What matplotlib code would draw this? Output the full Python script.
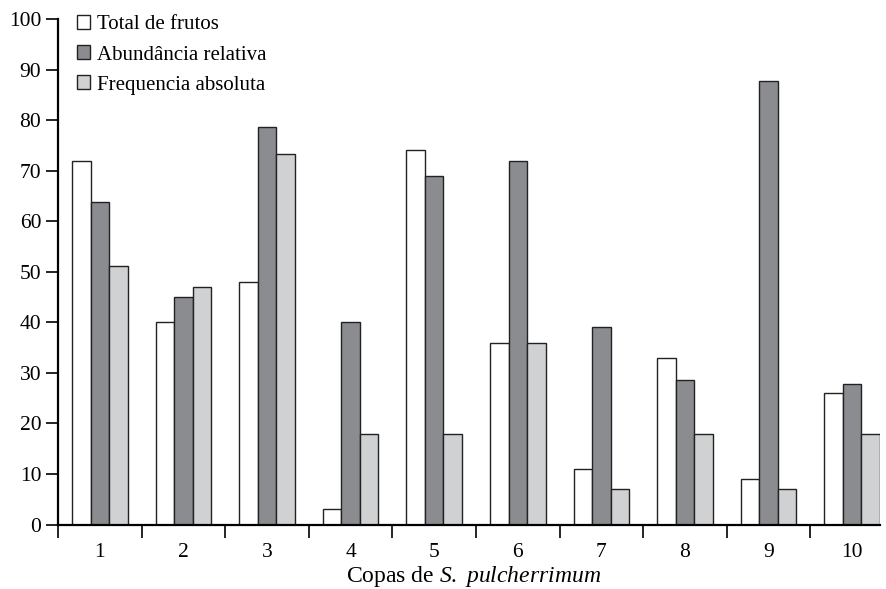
import matplotlib
matplotlib.use("Agg")
import matplotlib.pyplot as plt
import numpy as np

categories = ["1", "2", "3", "4", "5", "6", "7", "8", "9", "10"]
total_frutos = [72, 40, 48, 3, 74, 36, 11, 33, 9, 26]
abundancia = [63.7, 45, 78.6, 40, 69, 72, 39, 28.6, 87.7, 27.8]
frequencia = [51.2, 47, 73.2, 18, 18, 36, 7, 18, 7, 18]
series_names = ["Total de frutos", "Abundância relativa", "Frequencia absoluta"]
colors = ["#ffffff", "#8b8c90", "#d0d1d3"]

plt.rcParams['font.family'] = ['Liberation Serif', 'DejaVu Serif']
plt.rcParams['mathtext.fontset'] = 'custom'
plt.rcParams['mathtext.rm'] = 'Liberation Serif'
plt.rcParams['mathtext.it'] = 'Liberation Serif:italic'

W, H = 887, 589
fig = plt.figure(figsize=(W/100, H/100), dpi=100)
left, right, bottom, top = 58, 880, 524.5, 19
ax = fig.add_axes([left/W, (H-bottom)/H, (right-left)/W, (bottom-top)/H])

x = np.arange(len(categories))
bw = 0.222
for i, (vals, c, name) in enumerate(zip([total_frutos, abundancia, frequencia], colors, series_names)):
    ax.bar(x + (i-1)*bw, vals, bw, color=c, edgecolor="#222222", linewidth=1.0, label=name)

ax.set_xlim(-0.5, -0.5 + (right-left)/83.6)
ax.set_ylim(0, 100)
ax.spines['top'].set_visible(False)
ax.spines['right'].set_visible(False)
ax.spines['left'].set_linewidth(1.6)
ax.spines['bottom'].set_linewidth(1.6)

ax.set_yticks(np.arange(0, 101, 10))
ax.tick_params(axis='y', direction='out', length=9, width=1.2, labelsize=15.5, pad=3)
ax.set_xticks(x)
ax.set_xticklabels(categories)
ax.tick_params(axis='x', which='major', length=0, labelsize=15.5, pad=13)
ax.set_xticks(np.arange(-0.5, 9.5, 1.0), minor=True)
ax.tick_params(axis='x', which='minor', direction='out', length=9, width=1.2)

ax.set_xlabel(r'Copas de $\mathit{S.}$ $\mathit{pulcherrimum}$', fontsize=17, labelpad=2)
ax.xaxis.label.set_x(0.5055)

leg = ax.legend(loc='upper left', bbox_to_anchor=(0.0125, 1.024), frameon=False, fontsize=15,
                handlelength=0.65, handleheight=0.65, handletextpad=0.35, labelspacing=0.52,
                borderaxespad=0)

fig.savefig("out.png", dpi=100)
